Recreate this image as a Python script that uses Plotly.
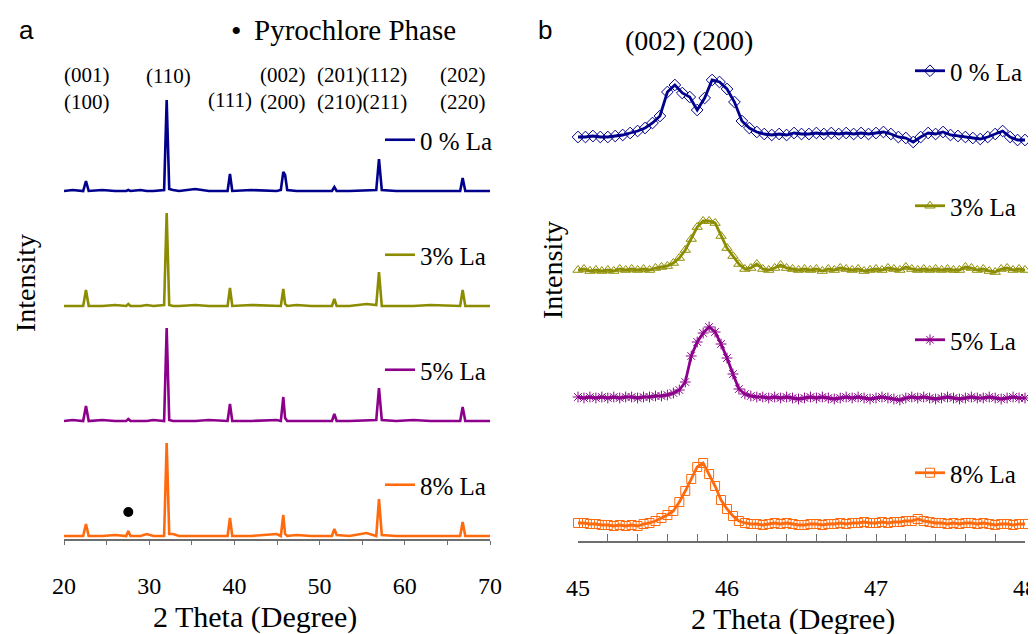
import plotly.graph_objects as go

# ---------------- panel (a): full XRD patterns ----------------
two_theta_a = [20.0, 21.0, 22.25, 22.58, 22.9, 24.5, 26.0, 27.3, 27.55, 27.8,
               29.0, 29.7, 30.5, 31.75, 32.05, 32.35, 32.8, 33.5, 35.4, 37.0,
               39.2, 39.48, 39.75, 42.0, 44.96, 45.45, 45.74, 45.95, 46.2, 47.3,
               49.0, 51.45, 51.73, 52.0, 53.5, 55.5, 56.65, 56.97, 57.3, 59.0,
               61.0, 63.0, 66.5, 66.79, 67.1, 68.5, 70.0]
int_a_0 = [0, 1, 0, 10, 0, 1, 0, 0, 1, 0,
           1, 0, 0, 1, 91, 2, 1, 0, 2, 0,
           0, 17, 0, 1, 0, 1, 19, 16, 1, 0,
           0, 0, 4, 0, 0, 1, 1, 32, 1, 0,
           0, 0, 0, 13, 0, 0, 0]
int_a_3 = [0, 0, 0, 16, 0, 0, 1, 0, 2, 0,
           0, 1, 0, 1, 93, 1, 0, 0, 1, 0,
           0, 18, 0, 1, 0, 0, 17, 2, 0, 1,
           0, 0, 7, 0, 0, 2, 1, 34, 0, 0,
           0, 1, 0, 16, 0, 0, 0]
int_a_5 = [0, 1, 0, 15, 0, 1, 0, 0, 2, 0,
           0, 0, 1, 0, 93, 1, 0, 0, 0, 1,
           0, 17, 0, 0, 1, 0, 24, 3, 0, 0,
           0, 0, 7, 0, 0, 1, 1, 33, 1, 0,
           1, 0, 0, 14, 0, 0, 0]
int_a_8 = [0, 0, 0, 12, 0, 0, 1, 0, 5, 0,
           0, 2, 0, 0, 93, 2, 2, 0, 0, 0,
           0, 18, 0, 0, 2, 0, 21, 2, 0, 1,
           0, 0, 7, 1, 0, 3, 0, 37, 1, 0,
           0, 0, 0, 14, 0, 0, 0]
pyrochlore_2theta = [27.55]
pyrochlore_int = [5]

# Miller indices of the perovskite reflections (label text, centre x in px, single/double line)
miller_labels = ["(001)<br>(100)", "(110)", "(111)", "(002)<br>(200)",
                 "(201)(112)<br>(210)(211)", "(202)<br>(220)"]

# ---------------- panel (b): (002)/(200) region ----------------
two_theta_b0 = [45.00, 45.05, 45.10, 45.15, 45.20, 45.25, 45.30, 45.35, 45.40, 45.45,
                45.50, 45.55, 45.60, 45.65, 45.70, 45.75, 45.80, 45.85, 45.90, 45.95,
                46.00, 46.05, 46.10, 46.15, 46.20, 46.25, 46.30, 46.35, 46.40, 46.45,
                46.50, 46.55, 46.60, 46.65, 46.70, 46.75, 46.80, 46.85, 46.90, 46.95,
                47.00, 47.05, 47.10, 47.15, 47.20, 47.25, 47.30, 47.35, 47.40, 47.45,
                47.50, 47.55, 47.60, 47.65, 47.70, 47.75, 47.80, 47.85, 47.90, 47.95,
                48.00]
int_b_0 = [1, 1, 2, 1, 1, 2, 3, 5, 7, 10,
           15, 22, 46, 53, 45, 41, 28, 40, 58, 56,
           49, 36, 17, 10, 6, 4, 3, 4, 3, 5,
           4, 4, 5, 4, 5, 4, 5, 4, 5, 4,
           5, 6, 4, 1, 0, -4, 1, 5, 4, 6,
           3, 2, 1, 0, -1, 1, 4, 7, 1, -2,
           -2]

two_theta_b = [45.00, 45.04, 45.08, 45.12, 45.16, 45.20, 45.24, 45.28, 45.32, 45.36,
               45.40, 45.44, 45.48, 45.52, 45.56, 45.60, 45.64, 45.68, 45.72, 45.76,
               45.80, 45.84, 45.88, 45.92, 45.96,
               46.00, 46.04, 46.08, 46.12, 46.16, 46.20, 46.24, 46.28, 46.32, 46.36,
               46.40, 46.44, 46.48, 46.52, 46.56, 46.60, 46.64, 46.68, 46.72, 46.76,
               46.80, 46.84, 46.88, 46.92, 46.96,
               47.00, 47.04, 47.08, 47.12, 47.16, 47.20, 47.24, 47.28, 47.32, 47.36,
               47.40, 47.44, 47.48, 47.52, 47.56, 47.60, 47.64, 47.68, 47.72, 47.76,
               47.80, 47.84, 47.88, 47.92, 47.96,
               48.00]
int_b_3 = [2, 3, 1, 2, 1, 2, 1, 3, 2, 3, 2, 3, 2, 4, 5, 6, 9, 14, 22, 33, 45, 51, 51, 49, 36,
           24, 16, 8, 3, 4, 8, 3, 2, 4, 7, 4, 3, 2, 3, 2, 3, 1, 3, 2, 4, 3, 2, 3, 1, 2,
           3, 2, 4, 3, 2, 5, 3, 2, 3, 2, 3, 2, 3, 2, 2, 5, 4, 2, 3, 1, 0, 3, 4, 2, 3,
           2]
int_b_5 = [1, 0, 1, 0, 1, 0, 1, 0, 1, 1, 0, 1, 1, 2, 2, 3, 5, 8, 16, 42, 56, 65, 71, 66, 54,
           40, 24, 9, 4, 2, 1, 1, 0, 1, 0, 1, 0, -1, 0, 1, 0, 1, 0, -1, 0, 1, 0, 1, 0, -1,
           0, 1, 0, -1, -2, 0, 1, 0, 1, 0, -1, 0, 1, 0, -1, 0, 1, 0, 0, 1, 0, -1, 0, 1, 0,
           0]
int_b_8 = [1, 1, 0, 0, -1, -1, -2, -1, -2, -1, -2, 0, 1, 3, 6, 9, 13, 22, 33, 45, 57, 61, 50, 38, 24,
           15, 8, 3, 1, 0, 0, -1, 0, 1, 0, 1, 0, -1, -1, 0, 0, -1, 0, 0, 1, 0, 1, 1, 2, 1,
           1, 2, 1, 2, 2, 3, 3, 5, 3, 2, 1, 1, 0, 1, 0, 1, 1, 0, 1, 0, -1, 0, 0, -1, 0,
           0]

labels = ["0 % La", "3% La", "5% La", "8% La"]
colors = ["#00008c", "#8c8c00", "#8c008c", "#ff6a0d"]
symbols = ["diamond-open", "triangle-up-open", "asterisk-open", "square-open"]

# ---------------- layout helpers (style only) ----------------
# the page has an 8px body margin; the figure is sized so it ends at the window edges
PAGE_OFF = 8
W, H = 1036 - PAGE_OFF, 634 - PAGE_OFF
def fx(x):
    return (x - PAGE_OFF) / W
def fy(y):
    return 1 - (y - PAGE_OFF) / H

offsets_a = [348, 233, 118, 3]
offsets_b = [403, 269, 143, 17]
legend_y_a = [140, 255, 370, 485]
legend_y_b = [71, 206, 340, 473]

SERIF = "Liberation Serif"
fig = go.Figure()

series_a = [int_a_0, int_a_3, int_a_5, int_a_8]
for i, ys in enumerate(series_a):
    lg = "legend" if i == 0 else f"legend{i + 1}"
    fig.add_trace(go.Scatter(
        x=two_theta_a, y=[v + offsets_a[i] for v in ys], mode="lines",
        line=dict(color=colors[i], width=2.6), name=labels[i],
        xaxis="x", yaxis="y", legend=lg, hoverinfo="skip"))

fig.add_trace(go.Scatter(
    x=pyrochlore_2theta, y=[v + offsets_a[3] + 19 for v in pyrochlore_int],
    mode="markers", marker=dict(symbol="circle", size=10, color="black"),
    showlegend=False, xaxis="x", yaxis="y", hoverinfo="skip"))

series_b = [(two_theta_b0, int_b_0), (two_theta_b, int_b_3), (two_theta_b, int_b_5), (two_theta_b, int_b_8)]
for i, (xs, ys) in enumerate(series_b):
    lg = f"legend{i + 5}"
    fig.add_trace(go.Scatter(
        x=xs, y=[v + offsets_b[i] for v in ys], mode="lines+markers",
        line=dict(color=colors[i], width=2.8),
        marker=dict(symbol=symbols[i], size=9, color=colors[i], line=dict(width=1, color=colors[i])),
        name=labels[i], xaxis="x2", yaxis="y2", legend=lg, cliponaxis=False, hoverinfo="skip"))

legends = {}
for i in range(4):
    key = "legend" if i == 0 else f"legend{i + 1}"
    legends[key] = dict(x=fx(380), y=fy(legend_y_a[i]), xref="container", yref="container",
                        xanchor="left", yanchor="middle",
                        bgcolor="rgba(0,0,0,0)", font=dict(family=SERIF, size=25, color="black"),
                        itemwidth=30, borderwidth=0)
for i in range(4):
    key = f"legend{i + 5}"
    legends[key] = dict(x=fx(910), y=fy(legend_y_b[i]), xref="container", yref="container",
                        xanchor="left", yanchor="middle",
                        bgcolor="rgba(0,0,0,0)", font=dict(family=SERIF, size=25, color="black"),
                        itemwidth=30, borderwidth=0)

annotations = []
def ann(text, x, y, size, family=SERIF, xanchor="center", angle=0, yanchor="middle"):
    annotations.append(dict(text=text, x=fx(x), y=fy(y), xref="paper", yref="paper",
                            xanchor=xanchor, yanchor=yanchor, showarrow=False, textangle=angle,
                            font=dict(family=family, size=size, color="black")))

ann("a", 26, 30, 26, family="Liberation Sans")
ann("b", 545, 30, 26, family="Liberation Sans")
ann("•", 236, 30, 30)
ann("Pyrochlore Phase", 252, 30, 29, xanchor="left")
ann("(002) (200)", 689, 40, 28)

miller_pos = [(87, 88), (168, 76), (230, 100), (283, 88), (362, 88), (463, 88)]
for t, (x, y) in zip(miller_labels, miller_pos):
    ann(t, x, y, 21)

ann("Intensity", 25, 283, 28, angle=-90)
ann("Intensity", 552, 270, 28, angle=-90)
ann("2 Theta (Degree)", 255, 617, 30)
ann("2 Theta (Degree)", 793, 619, 30)

axis_common = dict(showgrid=False, zeroline=False, showline=True, linecolor="#6e6e6e",
                   linewidth=1.5, tickcolor="#6e6e6e", tickwidth=1.2,
                   ticklabeloverflow="allow",
                   tickfont=dict(family=SERIF, size=24, color="black"))

fig.update_layout(
    width=W, height=H, margin=dict(l=0, r=0, t=0, b=0, autoexpand=False),
    paper_bgcolor="white", plot_bgcolor="white",
    xaxis=dict(domain=[fx(64), fx(490)], range=[20, 70], tick0=20, dtick=10,
               ticks="outside", ticklen=4, ticklabelstandoff=20, anchor="y",
               minor=dict(tick0=20, dtick=5, ticks="outside", ticklen=4, tickcolor="#6e6e6e"),
               **axis_common),
    yaxis=dict(domain=[fy(539), fy(60)], range=[0, 479], visible=False, anchor="x"),
    xaxis2=dict(domain=[fx(578), fx(1025)], range=[45, 48], tick0=45, dtick=1,
                ticks="inside", ticklen=7, ticklabelstandoff=24, anchor="y2",
                minor=dict(tick0=45, dtick=0.2, ticks="inside", ticklen=7, tickcolor="#6e6e6e"),
                **axis_common),
    yaxis2=dict(domain=[fy(541), fy(60)], range=[0, 481], visible=False, anchor="x2"),
    annotations=annotations,
    **legends,
)

fig.write_html("out.html")
